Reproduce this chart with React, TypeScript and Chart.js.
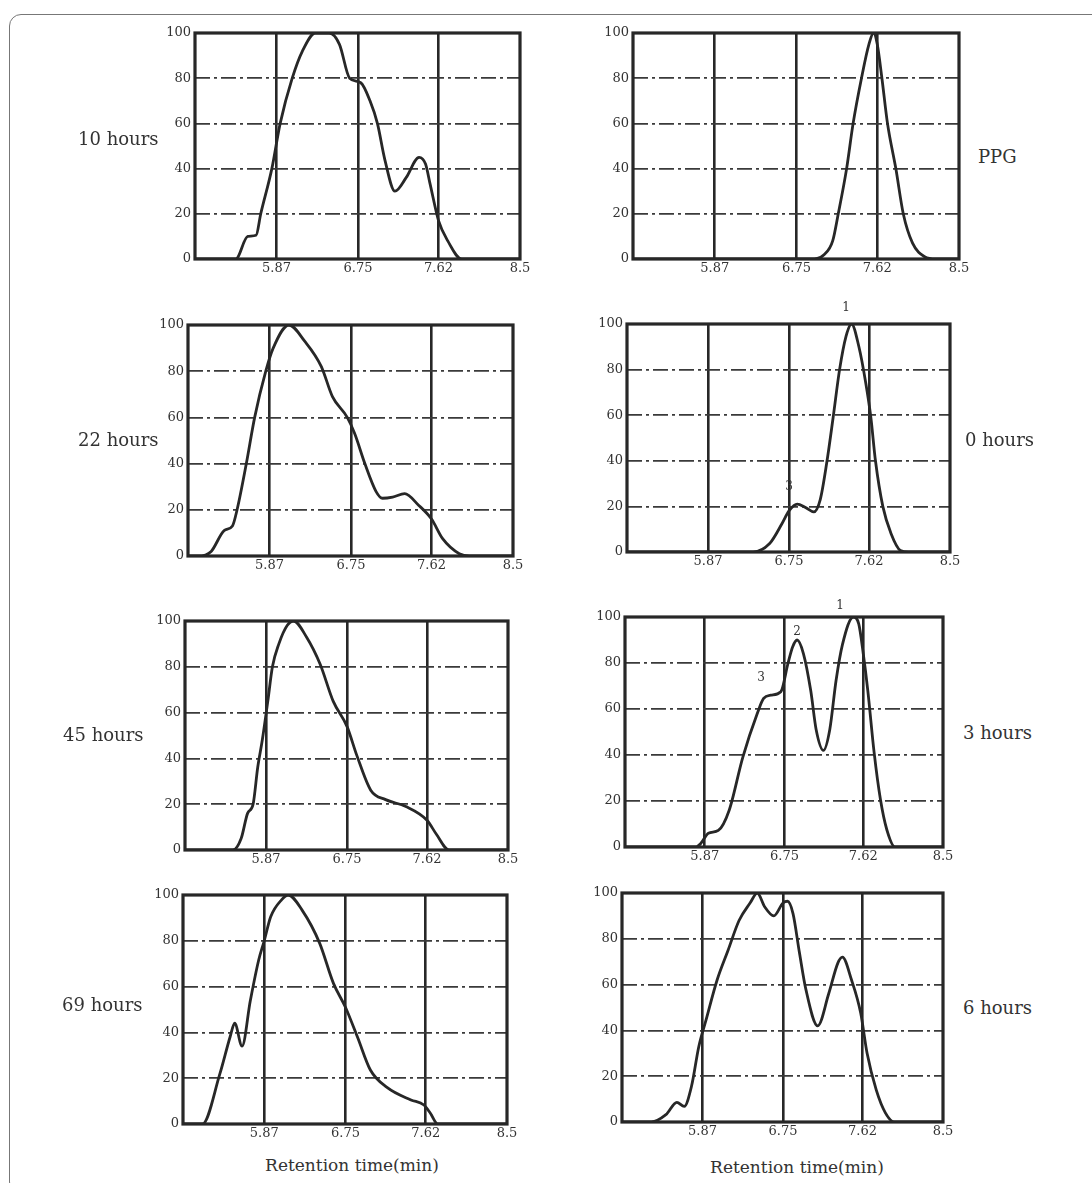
import React, { useEffect, useRef } from "react";
import { Chart, registerables } from "chart.js";

Chart.register(...registerables);

// ---------- axis data ----------
const xMin = 4.99;
const xMax = 8.5;
const xTickValues = [5.87, 6.75, 7.62, 8.5];
const xTickLabels = ["5.87", "6.75", "7.62", "8.5"];
const yTickValues = [0, 20, 40, 60, 80, 100];
const yTickLabels = ["0", "20", "40", "60", "80", "100"];

// ---------- series data (retention time, relative response) ----------
const h10X = [4.99, 5.43, 5.56, 5.65, 5.7, 5.82, 5.91, 6.04, 6.15, 6.29, 6.44, 6.55, 6.66, 6.78, 6.88, 6.96, 7.04, 7.15, 7.27, 7.41, 7.48, 7.53, 7.62, 7.72, 7.87, 8.5];
const h10Y = [0, 0, 10, 10.5, 20, 40, 60, 80, 92, 100, 100, 95, 80, 78, 70, 60, 44, 30, 36, 45, 42, 33, 17, 8, 0, 0];

const ppgX = [4.99, 6.9, 7.05, 7.14, 7.2, 7.29, 7.36, 7.45, 7.53, 7.58, 7.62, 7.67, 7.73, 7.82, 7.9, 8.0, 8.13, 8.25, 8.5];
const ppgY = [0, 0, 2, 8, 20, 40, 60, 80, 95, 100, 95, 80, 60, 40, 20, 7, 1, 0, 0];

const h22X = [4.99, 5.1, 5.24, 5.38, 5.47, 5.52, 5.62, 5.71, 5.83, 5.91, 6.08, 6.25, 6.43, 6.55, 6.71, 6.79, 6.9, 7.02, 7.09, 7.2, 7.33, 7.48, 7.62, 7.74, 7.92, 8.03, 8.5];
const h22Y = [0, 0, 2, 11, 13, 20, 40, 60, 80, 90, 100, 93, 82, 69, 60, 53, 40, 28, 25, 25.5, 27, 22, 16, 7.5, 1, 0, 0];

const h0X = [4.99, 6.36, 6.54, 6.675, 6.75, 6.84, 6.93, 7.02, 7.09, 7.16, 7.23, 7.3, 7.37, 7.43, 7.51, 7.585, 7.64, 7.69, 7.77, 7.86, 7.96, 8.05, 8.5];
const h0Y = [0, 0, 3.7, 12.5, 18, 21, 19.5, 17.6, 23, 39, 59, 80, 94.6, 100, 90, 74, 59, 40, 20, 8, 0.7, 0, 0];

const h45X = [4.99, 5.51, 5.6, 5.67, 5.73, 5.78, 5.83, 5.89, 5.94, 6.01, 6.1, 6.17, 6.31, 6.46, 6.6, 6.75, 6.86, 7.01, 7.17, 7.39, 7.62, 7.72, 7.86, 8.5];
const h45Y = [0, 0, 5, 16, 20, 36, 48, 65, 80, 90, 98, 100, 93, 81, 65, 54, 41, 26, 22, 19, 13, 7, 0, 0];

const h3X = [4.99, 5.77, 5.83, 5.91, 6.02, 6.14, 6.29, 6.45, 6.52, 6.6, 6.71, 6.79, 6.84, 6.89, 6.96, 7.04, 7.1, 7.18, 7.25, 7.32, 7.39, 7.51, 7.57, 7.62, 7.67, 7.74, 7.81, 7.88, 7.97, 8.5];
const h3Y = [0, 0, 1.7, 6, 7.2, 16, 39, 58, 64.6, 66, 67.5, 80, 87, 90, 84, 68, 51, 42, 51, 72.5, 88, 100, 97, 84, 68, 41, 20.5, 7.5, 0, 0];

const h69X = [4.99, 5.2, 5.39, 5.5, 5.55, 5.63, 5.72, 5.81, 5.87, 5.94, 6.06, 6.13, 6.28, 6.47, 6.62, 6.75, 6.88, 7.02, 7.2, 7.46, 7.6, 7.67, 7.75, 8.5];
const h69Y = [0, 0, 22, 38, 44, 34, 54, 71.6, 80, 90.5, 98, 100, 93.4, 79, 61.4, 51, 38, 23.6, 16, 10.5, 8.3, 4.7, 0, 0];

const h6X = [4.99, 5.31, 5.47, 5.59, 5.67, 5.75, 5.83, 5.91, 6.03, 6.15, 6.27, 6.39, 6.47, 6.55, 6.65, 6.75, 6.8, 6.86, 6.93, 7.0, 7.13, 7.25, 7.35, 7.4, 7.5, 7.6, 7.67, 7.77, 7.87, 7.97, 8.5];
const h6Y = [0, 0, 3.2, 8.6, 6.8, 15.6, 33, 44.7, 62, 75, 88, 95.6, 100, 94, 90, 95.6, 96.4, 91, 74, 58, 42, 56, 69.4, 72, 62, 47.6, 30, 14, 4, 0, 0];

// ---------- panel titles ----------
const panelTitles = ["10 hours", "PPG", "22 hours", "0 hours", "45 hours", "3 hours", "69 hours", "6 hours"];
const panelSeries = [
  [h10X, h10Y],
  [ppgX, ppgY],
  [h22X, h22Y],
  [h0X, h0Y],
  [h45X, h45Y],
  [h3X, h3Y],
  [h69X, h69Y],
  [h6X, h6Y],
];

// ---------- layout (pixel geometry of plot areas & labels) ----------
const plotRects = [
  { L: 195, T: 33, R: 520, B: 259 },
  { L: 633, T: 33, R: 959, B: 259 },
  { L: 188, T: 325, R: 513, B: 556 },
  { L: 627, T: 324, R: 950, B: 552 },
  { L: 185, T: 621, R: 508, B: 850 },
  { L: 625, T: 617, R: 943, B: 847 },
  { L: 183, T: 895, R: 507, B: 1124 },
  { L: 622, T: 893, R: 943, B: 1122 },
];
const titlePos = [
  { x: 78, y: 139 },
  { x: 978, y: 157 },
  { x: 78, y: 440 },
  { x: 965, y: 440 },
  { x: 63, y: 735 },
  { x: 963, y: 733 },
  { x: 62, y: 1005 },
  { x: 963, y: 1008 },
];
const peakLabels = ["1", "3", "1", "2", "3"];
const peakLabelPos = [
  { x: 846, y: 307 },
  { x: 789, y: 486 },
  { x: 840, y: 605 },
  { x: 797, y: 631 },
  { x: 761, y: 677 },
];
const axisTitle = "Retention time(min)";
const axisTitlePos = [
  { x: 352, y: 1165 },
  { x: 797, y: 1167 },
];

const Y_AXIS_W = 44;
const PAD_TOP = 12;
const PAD_RIGHT = 16;
const X_AXIS_H = 24;
const INK = "#272727";
const FONT = "'DejaVu Serif', 'Liberation Serif', serif";

const framePlugin = {
  id: "frame",
  afterDatasetsDraw(chart: any) {
    const { ctx, chartArea: a } = chart;
    ctx.save();
    ctx.strokeStyle = INK;
    ctx.lineWidth = 3.2;
    ctx.strokeRect(a.left, a.top, a.right - a.left, a.bottom - a.top);
    ctx.restore();
  },
};

function Panel({ xs, ys, rect }: { xs: number[]; ys: number[]; rect: { L: number; T: number; R: number; B: number } }) {
  const ref = useRef<HTMLCanvasElement | null>(null);
  const width = rect.R - rect.L + Y_AXIS_W + PAD_RIGHT;
  const height = rect.B - rect.T + PAD_TOP + X_AXIS_H;

  useEffect(() => {
    if (!ref.current) return;
    const chart = new Chart(ref.current, {
      type: "line",
      data: {
        datasets: [
          {
            data: xs.map((x, i) => ({ x, y: ys[i] })),
            borderColor: INK,
            borderWidth: 2.8,
            pointRadius: 0,
            fill: false,
            cubicInterpolationMode: "monotone",
          },
        ],
      },
      options: {
        animation: false,
        responsive: false,
        events: [],
        layout: { padding: { left: 0, top: PAD_TOP, right: PAD_RIGHT, bottom: 0 } },
        plugins: { legend: { display: false }, tooltip: { enabled: false } },
        scales: {
          x: {
            type: "linear",
            min: xMin,
            max: xMax,
            afterBuildTicks: (s: any) => {
              s.ticks = xTickValues.map((v) => ({ value: v }));
            },
            afterFit: (s: any) => {
              s.height = X_AXIS_H;
            },
            ticks: {
              autoSkip: false,
              maxRotation: 0,
              padding: 2,
              color: "#333",
              font: { family: FONT, size: 13 },
              callback: (v: any) => {
                const i = xTickValues.indexOf(Number(v));
                return i >= 0 ? xTickLabels[i] : "";
              },
            },
            grid: {
              drawTicks: false,
              lineWidth: 2.6,
              color: (c: any) => (c.tick && c.tick.value >= xMax ? "rgba(0,0,0,0)" : INK),
            },
            border: { display: false, dash: [] },
          },
          y: {
            type: "linear",
            min: 0,
            max: 100,
            afterBuildTicks: (s: any) => {
              s.ticks = yTickValues.map((v) => ({ value: v }));
            },
            afterFit: (s: any) => {
              s.width = Y_AXIS_W;
            },
            ticks: {
              autoSkip: false,
              padding: 4,
              color: "#333",
              font: { family: FONT, size: 13 },
              callback: (v: any) => {
                const i = yTickValues.indexOf(Number(v));
                return i >= 0 ? yTickLabels[i] : "";
              },
            },
            grid: {
              drawTicks: false,
              lineWidth: 1.8,
              color: (c: any) =>
                c.tick && (c.tick.value <= 0 || c.tick.value >= 100) ? "rgba(0,0,0,0)" : "#3a3a3a",
            },
            border: { display: false, dash: [15, 4, 3, 4] },
          },
        },
      },
      plugins: [framePlugin],
    } as any);
    return () => chart.destroy();
  }, [xs, ys]);

  return (
    <canvas
      ref={ref}
      width={width}
      height={height}
      style={{
        position: "absolute",
        left: rect.L - Y_AXIS_W,
        top: rect.T - PAD_TOP,
        width,
        height,
      }}
    />
  );
}

function Label({ text, x, y, size, center }: { text: string; x: number; y: number; size: number; center?: boolean }) {
  return (
    <div
      style={{
        position: "absolute",
        left: x,
        top: y,
        transform: center ? "translate(-50%, -50%)" : "translateY(-50%)",
        fontFamily: FONT,
        fontSize: size,
        lineHeight: 1,
        color: "#333",
        whiteSpace: "nowrap",
      }}
    >
      {text}
    </div>
  );
}

export default function App() {
  return (
    <div
      style={{
        position: "absolute",
        left: 0,
        top: 0,
        width: 1092,
        height: 1183,
        overflow: "hidden",
        background: "#fff",
      }}
    >
      <div
        style={{
          position: "absolute",
          left: 9,
          top: 14,
          width: 1200,
          height: 1180,
          border: "1.5px solid #777",
          borderRadius: 12,
          boxSizing: "border-box",
        }}
      />
      {panelSeries.map(([xs, ys], i) => (
        <Panel key={i} xs={xs} ys={ys} rect={plotRects[i]} />
      ))}
      {panelTitles.map((t, i) => (
        <Label key={"t" + i} text={t} x={titlePos[i].x} y={titlePos[i].y} size={18} />
      ))}
      {peakLabels.map((t, i) => (
        <Label key={"p" + i} text={t} x={peakLabelPos[i].x} y={peakLabelPos[i].y} size={12} center />
      ))}
      {axisTitlePos.map((p, i) => (
        <Label key={"a" + i} text={axisTitle} x={p.x} y={p.y} size={17} center />
      ))}
    </div>
  );
}
